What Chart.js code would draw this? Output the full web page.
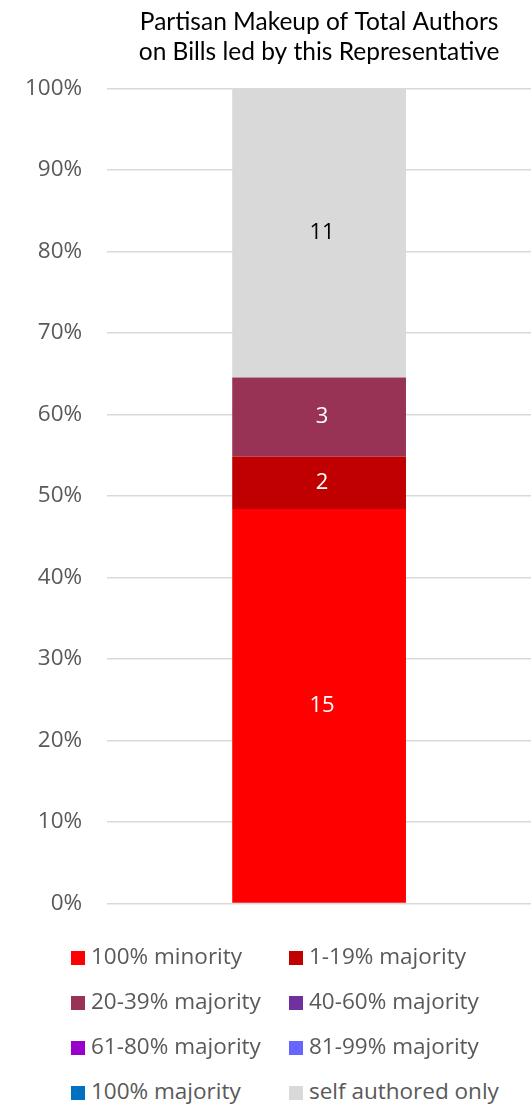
<!DOCTYPE html>
<html>
<head>
<meta charset="utf-8">
<script src="https://cdn.jsdelivr.net/npm/chart.js@4/dist/chart.umd.min.js"></script>
<style>
  html, body { margin: 0; padding: 0; background: #fff; overflow: hidden; }
  #wrap { position: relative; width: 531px; height: 942px; }
  #legend { position: absolute; left: 0; top: 933px; width: 531px; font-family: "Open Sans", sans-serif; font-size: 22.5px; color: #595959; }
  .item { position: absolute; height: 45px; line-height: 45px; white-space: nowrap; }
  .box { display: inline-block; width: 14px; height: 14px; margin-right: 6px; vertical-align: -1px; }
</style>
</head>
<body>
<div id="wrap"><canvas id="chart"></canvas></div>
<div id="legend"></div>
<script>
var categories = [""];
var seriesNames = ["100% minority", "1-19% majority", "20-39% majority", "40-60% majority",
  "61-80% majority", "81-99% majority", "100% majority", "self authored only"];
var seriesCounts = [15, 2, 3, 0, 0, 0, 0, 11];
var seriesColors = ["#FF0000", "#C00000", "#993355", "#7030A0", "#9900CC", "#6666FF", "#0070C0", "#D9D9D9"];
var labelColors = ["#FFFFFF", "#FFFFFF", "#FFFFFF", "#FFFFFF", "#FFFFFF", "#FFFFFF", "#FFFFFF", "#000000"];
var yTicks = [0, 10, 20, 30, 40, 50, 60, 70, 80, 90, 100];

var total = seriesCounts.reduce(function (a, b) { return a + b; }, 0);

var dataSets = [];
seriesNames.forEach(function (name, i) {
  dataSets.push({
    label: name,
    data: [seriesCounts[i] / total * 100],
    backgroundColor: seriesColors[i],
    borderWidth: 0,
    categoryPercentage: 1,
    barPercentage: 0.41
  });
});

// counts written in the middle of each segment
var valueLabels = {
  id: "valueLabels",
  afterDatasetsDraw: function (chart) {
    var ctx = chart.ctx;
    ctx.save();
    ctx.font = "22px 'Open Sans', sans-serif";
    ctx.textAlign = "center";
    ctx.textBaseline = "middle";
    chart.data.datasets.forEach(function (ds, i) {
      if (!seriesCounts[i]) return;
      var bar = chart.getDatasetMeta(i).data[0];
      ctx.fillStyle = labelColors[i];
      ctx.fillText(String(seriesCounts[i]), bar.x + 3, (bar.y + bar.base) / 2);
    });
    ctx.restore();
  }
};

new Chart(document.getElementById("chart"), {
  type: "bar",
  data: { labels: categories, datasets: dataSets },
  options: {
    responsive: true,
    maintainAspectRatio: false,
    animation: false,
    layout: { padding: { top: 0, right: 0, bottom: 6, left: 0 } },
    plugins: {
      legend: { display: false },
      tooltip: { enabled: false },
      title: {
        display: true,
        fullSize: false,
        text: ["Partisan Makeup of Total Authors", "on Bills led by this Representative"],
        color: "#000000",
        font: { family: "Lato, sans-serif", size: 24.5, weight: "normal", lineHeight: 1.23 },
        padding: { top: 7, bottom: 21 }
      }
    },
    scales: {
      x: { stacked: true, display: false },
      y: {
        stacked: true,
        min: 0,
        max: 100,
        afterBuildTicks: function (axis) {
          axis.ticks = yTicks.map(function (v) { return { value: v }; });
        },
        border: { display: false },
        grid: { color: "#D9D9D9", lineWidth: 1.5, drawTicks: false },
        ticks: {
          padding: 25,
          color: "#595959",
          font: { family: "'Open Sans', sans-serif", size: 22.5 },
          callback: function (v) { return v + "%"; }
        }
      }
    }
  },
  plugins: [valueLabels]
});

// legend, two columns
var legend = document.getElementById("legend");
var colX = [71, 289];
seriesNames.forEach(function (name, i) {
  var item = document.createElement("div");
  item.className = "item";
  item.style.left = colX[i % 2] + "px";
  item.style.top = (Math.floor(i / 2) * 45) + "px";
  var box = document.createElement("span");
  box.className = "box";
  box.style.background = seriesColors[i];
  item.appendChild(box);
  item.appendChild(document.createTextNode(name));
  legend.appendChild(item);
});
</script>
</body>
</html>
